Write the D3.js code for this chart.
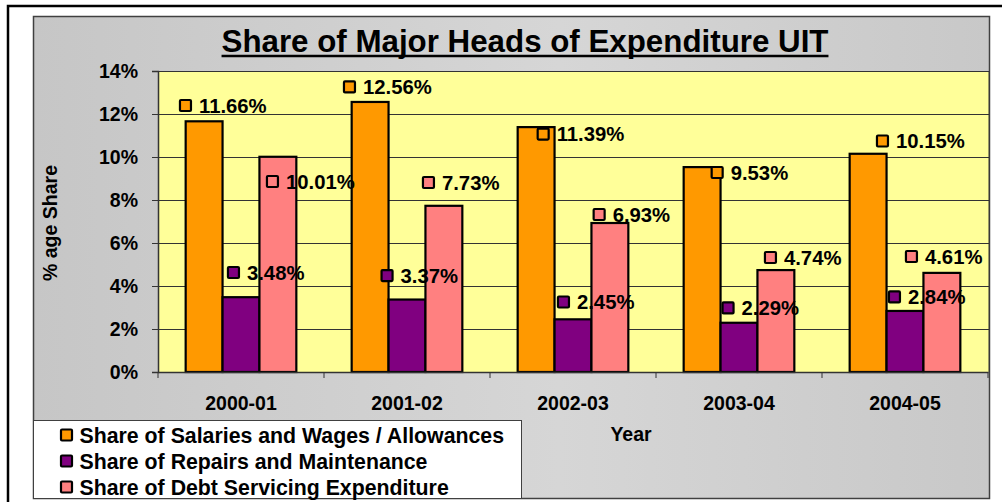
<!DOCTYPE html>
<html>
<head>
<meta charset="utf-8">
<script src="https://cdn.jsdelivr.net/npm/d3@7"></script>
<style>
  body { margin: 0; background: #fff; }
  svg { display: block; }
  text { font-family: "Liberation Sans", Arial, sans-serif; font-weight: bold; fill: #000; }
</style>
</head>
<body>
<svg id="chart" width="1002" height="502"></svg>
<script>
// chart data
var years = ["2000-01", "2001-02", "2002-03", "2003-04", "2004-05"];
var seriesNames = [
  "Share of Salaries and Wages / Allowances",
  "Share of Repairs and Maintenance",
  "Share of Debt Servicing Expenditure"
];
var salaries = [11.66, 12.56, 11.39, 9.53, 10.15];
var repairs  = [3.48, 3.37, 2.45, 2.29, 2.84];
var debt     = [10.01, 7.73, 6.93, 4.74, 4.61];
var yTicks   = [0, 2, 4, 6, 8, 10, 12, 14];

var colors = ["#FF9900", "#800080", "#FF8080"];

// hand-placed data labels: [dx, dy] from each bar's top-left corner
var labelNudge = [
  [[-6.7, -15.8], [-8.7, -15], [19, 7], [27, 5.4], [26.3, -12.8]],
  [[4.4, -24.7], [-8, -24], [2.4, -17.3], [1, -14.8], [1.4, -14]],
  [[6.5, 24.7], [-3.5, -23.3], [1.2, -8.5], [6.5, -12.6], [-18.5, -16.4]]
];

var svg = d3.select("#chart");

var defs = svg.append("defs");
var grad = defs.append("linearGradient").attr("id", "bg").attr("x1", "0").attr("x2", "1").attr("y1", "0").attr("y2", "0");
grad.append("stop").attr("offset", "0%").attr("stop-color", "#c6c6c6");
grad.append("stop").attr("offset", "55%").attr("stop-color", "#d6d6d6");
grad.append("stop").attr("offset", "100%").attr("stop-color", "#c8c8c8");

// outer frame
svg.append("path")
    .attr("d", "M8,504 L8,6 L1004,6")
    .attr("fill", "none")
    .attr("stroke", "#000")
    .attr("stroke-width", 2.5);

// chart area
svg.append("rect")
    .attr("x", 33.5).attr("y", 16.5)
    .attr("width", 956).attr("height", 482)
    .attr("fill", "url(#bg)")
    .attr("stroke", "#404040")
    .attr("stroke-width", 1.5);

var plot = {left: 158, top: 71, right: 989, bottom: 372};

var x0 = d3.scaleBand()
    .domain(years)
    .range([plot.left, 988])
    .paddingInner(0)
    .paddingOuter(0);

var x1 = d3.scaleBand()
    .domain([0, 1, 2])
    .range([0, x0.bandwidth()])
    .paddingInner(0)
    .paddingOuter(0.75);

var y = d3.scaleLinear()
    .domain([0, 14])
    .range([plot.bottom, plot.top]);

// plot area
svg.append("rect")
    .attr("x", plot.left).attr("y", plot.top)
    .attr("width", plot.right - plot.left).attr("height", plot.bottom - plot.top)
    .attr("fill", "#FFFF99");

// grid lines
svg.append("g")
    .attr("transform", "translate(" + plot.left + ",0)")
    .call(d3.axisLeft(y).tickValues(yTicks.slice(1)).tickSize(-(plot.right - plot.left)).tickFormat(""))
    .call(function(g) { g.select(".domain").remove(); })
    .selectAll("line").attr("stroke", "#333").attr("stroke-width", 1);

svg.append("line")
    .attr("x1", plot.right).attr("x2", plot.right)
    .attr("y1", plot.top).attr("y2", plot.bottom)
    .attr("stroke", "#333");

// bars
var table = [salaries, repairs, debt];

var groups = svg.append("g")
  .selectAll("g")
  .data(years)
  .enter().append("g")
    .attr("transform", function(d) { return "translate(" + x0(d) + ",0)"; });

groups.selectAll("rect")
  .data(function(d, i) { return table.map(function(s, k) { return {k: k, value: s[i]}; }); })
  .enter().append("rect")
    .attr("x", function(d) { return x1(d.k); })
    .attr("y", function(d) { return y(d.value); })
    .attr("width", x1.bandwidth())
    .attr("height", function(d) { return y(0) - y(d.value); })
    .attr("fill", function(d) { return colors[d.k]; })
    .attr("stroke", "#000")
    .attr("stroke-width", 2.2);

// y axis
var yAxis = svg.append("g")
    .attr("transform", "translate(" + plot.left + ",0)")
    .call(d3.axisLeft(y).tickValues(yTicks).tickSize(6).tickPadding(14).tickFormat(function(d) { return d + "%"; }));
yAxis.select(".domain").attr("stroke", "#333").attr("stroke-width", 1.5);
yAxis.selectAll(".tick line").attr("stroke", "#333");
yAxis.selectAll("text")
    .attr("font-size", 19.5).attr("font-family", null).attr("fill", "#000");

// x axis
var xAxis = svg.append("g")
    .attr("transform", "translate(0," + plot.bottom + ")")
    .call(d3.axisBottom(x0).tickSize(0).tickPadding(24));
xAxis.select(".domain").attr("stroke", "#333").attr("stroke-width", 1.5);
xAxis.selectAll("text")
    .attr("font-size", 19.5).attr("font-family", null).attr("fill", "#000");

var edges = years.map(function(d) { return x0(d); }).concat([x0.range()[1]]);
xAxis.selectAll(".edge")
  .data(edges)
  .enter().append("line")
    .attr("class", "edge")
    .attr("x1", function(d) { return d; }).attr("x2", function(d) { return d; })
    .attr("y1", 0).attr("y2", 6)
    .attr("stroke", "#333");

// data labels
var labels = [];
table.forEach(function(s, k) {
  s.forEach(function(v, i) {
    labels.push({k: k, i: i, value: v,
      x: x0(years[i]) + x1(k) + labelNudge[k][i][0],
      y: y(v) + labelNudge[k][i][1]});
  });
});

var lab = svg.append("g")
  .selectAll("g")
  .data(labels)
  .enter().append("g")
    .attr("transform", function(d) { return "translate(" + d.x + "," + d.y + ")"; });

lab.append("rect")
    .attr("x", 1).attr("y", -5.5)
    .attr("width", 11).attr("height", 11)
    .attr("rx", 1)
    .attr("fill", function(d) { return colors[d.k]; })
    .attr("stroke", "#000")
    .attr("stroke-width", 2.2);

lab.append("text")
    .attr("x", 20)
    .attr("dy", "0.36em")
    .attr("font-size", 20.3)
    .text(function(d) { return d.value.toFixed(2) + "%"; });

// title
var title = svg.append("text")
    .attr("x", 525)
    .attr("y", 52)
    .attr("text-anchor", "middle")
    .attr("font-size", 31.3)
    .text("Share of Major Heads of Expenditure UIT");
var tb = title.node().getBBox();
svg.append("line")
    .attr("x1", tb.x).attr("x2", tb.x + tb.width)
    .attr("y1", 56).attr("y2", 56)
    .attr("stroke", "#000")
    .attr("stroke-width", 2.5);

// axis titles
svg.append("text")
    .attr("transform", "translate(57,223) rotate(-90)")
    .attr("text-anchor", "middle")
    .attr("font-size", 19.5)
    .text("% age Share");

svg.append("text")
    .attr("x", 631)
    .attr("y", 441)
    .attr("text-anchor", "middle")
    .attr("font-size", 19.5)
    .text("Year");

// legend
var legend = svg.append("g");
legend.append("rect")
    .attr("x", 33.5).attr("y", 420.5)
    .attr("width", 488).attr("height", 78)
    .attr("fill", "#fff")
    .attr("stroke", "#404040")
    .attr("stroke-width", 1);

var item = legend.selectAll("g")
  .data(seriesNames)
  .enter().append("g")
    .attr("transform", function(d, i) { return "translate(60," + (435 + i * 26) + ")"; });

item.append("rect")
    .attr("x", 1).attr("y", -5.5)
    .attr("width", 11).attr("height", 11)
    .attr("rx", 1)
    .attr("fill", function(d, i) { return colors[i]; })
    .attr("stroke", "#000")
    .attr("stroke-width", 2.2);

item.append("text")
    .attr("x", 19.5)
    .attr("dy", "0.36em")
    .attr("font-size", 21.3)
    .text(function(d) { return d; });
</script>
</body>
</html>
